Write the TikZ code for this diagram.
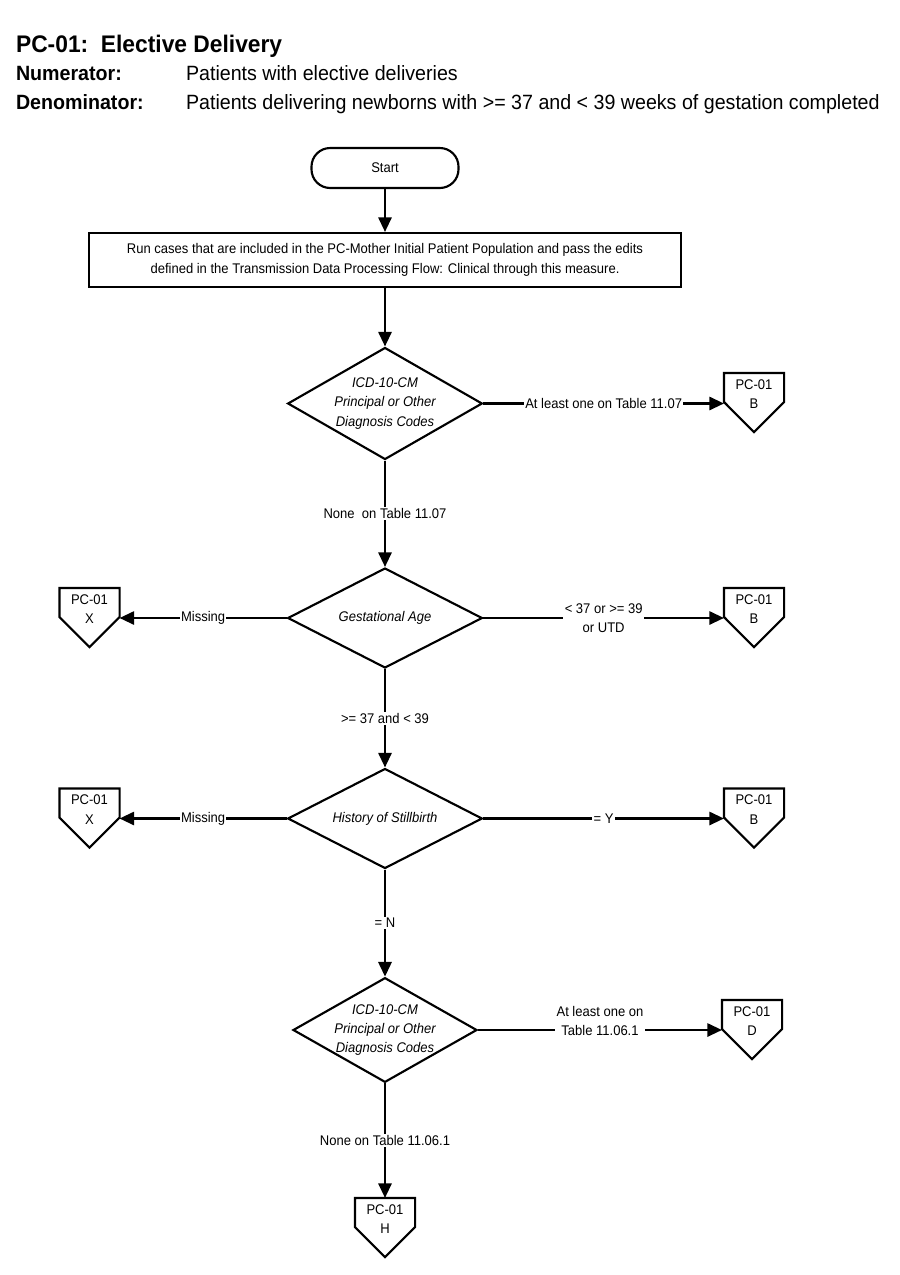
\documentclass[tikz,border=0pt]{standalone}
\usepackage{fontspec}
\setmainfont{Liberation Sans}
\newfontfamily\chartfont{Liberation Sans}[FakeStretch=0.93]
\newfontfamily\headfont{Liberation Sans}[FakeStretch=0.95]
\usetikzlibrary{arrows.meta,calc,positioning,shapes.geometric}

\begin{document}
\begin{tikzpicture}[x=0.75pt,y=-0.75pt,line width=1.6pt,
  every node/.style={font=\chartfont\fontsize{10.5}{14.5}\selectfont},
  head/.style={anchor=base west,inner sep=0pt},
  term/.style={draw,rounded corners=14pt,minimum width=110.25pt,minimum height=30pt},
  proc/.style={draw,minimum width=444pt,minimum height=40.5pt,align=center},
  dec/.style={draw,diamond,aspect=1.75,inner sep=0pt,align=center,font=\chartfont\itshape\fontsize{10.5}{14.5}\selectfont},
  page/.style={minimum width=43.5pt,minimum height=30pt,inner sep=0pt,align=center},
  lab/.style={fill=white,inner sep=1pt,align=center},
  arr/.style={-{Triangle[length=11pt,width=10pt]}}]
  \useasboundingbox (0,0) rectangle (900,1275);

  \node[head,font=\headfont\bfseries\fontsize{18}{20}\selectfont] (title) at (15,52) {PC-01:\ \ Elective Delivery};
  \node[head,font=\headfont\bfseries\fontsize{15.5}{17}\selectfont] (numlab) at (15,80) {Numerator:};
  \node[head,font=\headfont\fontsize{15.5}{17}\selectfont] (numtxt) at (185,80) {Patients with elective deliveries};
  \node[head,font=\headfont\bfseries\fontsize{15.5}{17}\selectfont] (denlab) at (15,109) {Denominator:};
  \node[head,font=\headfont\fontsize{15.5}{17}\selectfont] (dentxt) at (185,109) {Patients delivering newborns with >= 37 and < 39 weeks of gestation completed};

  \node[term] (start) at (385,168) {Start};
  \node[proc] (run) at (385,260) {Run cases that are included in the PC-Mother Initial Patient Population and pass the edits\\defined in the Transmission Data Processing Flow: Clinical through this measure.};
  \node[dec,minimum width=146pt,minimum height=84pt] (icd1) at (385,403.5) {ICD-10-CM\\Principal or Other\\Diagnosis Codes};
  \node[dec,minimum width=146pt,minimum height=75pt] (ges) at (385,618) {Gestational Age};
  \node[dec,minimum width=146pt,minimum height=75pt] (hist) at (385,818.5) {History of Stillbirth};
  \node[dec,inner sep=-6pt,minimum width=138pt,minimum height=78.5pt] (icd2) at (385,1030) {ICD-10-CM\\Principal or Other\\Diagnosis Codes};

  \node[page] (pb1) at (754,394) {PC-01\\B};
  \node[page] (px1) at (89.5,609) {PC-01\\X};
  \node[page] (pb2) at (754,609) {PC-01\\B};
  \node[page] (px2) at (89.5,809.5) {PC-01\\X};
  \node[page] (pb3) at (754,809.5) {PC-01\\B};
  \node[page] (pd) at (752,1021) {PC-01\\D};
  \node[page] (ph) at (385,1219) {PC-01\\H};
  \foreach \n in {pb1,px1,pb2,px2,pb3,pd,ph}{
    \draw (\n.north west) -- (\n.north east) -- ++(0,29) -- ($(\n.south)+(0,17)$) -- ($(\n.north west)+(0,29)$) -- cycle;
  }

  \draw[arr] (start) -- (run);
  \draw[arr] (run) -- (icd1);
  \draw[arr] (icd1.east) -- node[lab]{At least one on Table 11.07} (icd1.east -| pb1.west);
  \draw[arr] (icd1) -- node[lab]{None\ \ on Table 11.07} (ges);
  \draw[arr] (ges.west) -- node[lab]{Missing} (ges.west -| px1.east);
  \draw[arr] (ges.east) -- node[lab]{< 37 or >= 39\\or UTD} (ges.east -| pb2.west);
  \draw[arr] (ges) -- node[lab]{>= 37 and < 39} (hist);
  \draw[arr] (hist.west) -- node[lab]{Missing} (hist.west -| px2.east);
  \draw[arr] (hist.east) -- node[lab]{= Y} (hist.east -| pb3.west);
  \draw[arr] (hist) -- node[lab]{= N} (icd2);
  \draw[arr] (icd2.east) -- node[lab,yshift=7pt]{At least one on\\Table 11.06.1} (icd2.east -| pd.west);
  \draw[arr] (icd2) -- node[lab]{None on Table 11.06.1} (ph);
\end{tikzpicture}
\end{document}
